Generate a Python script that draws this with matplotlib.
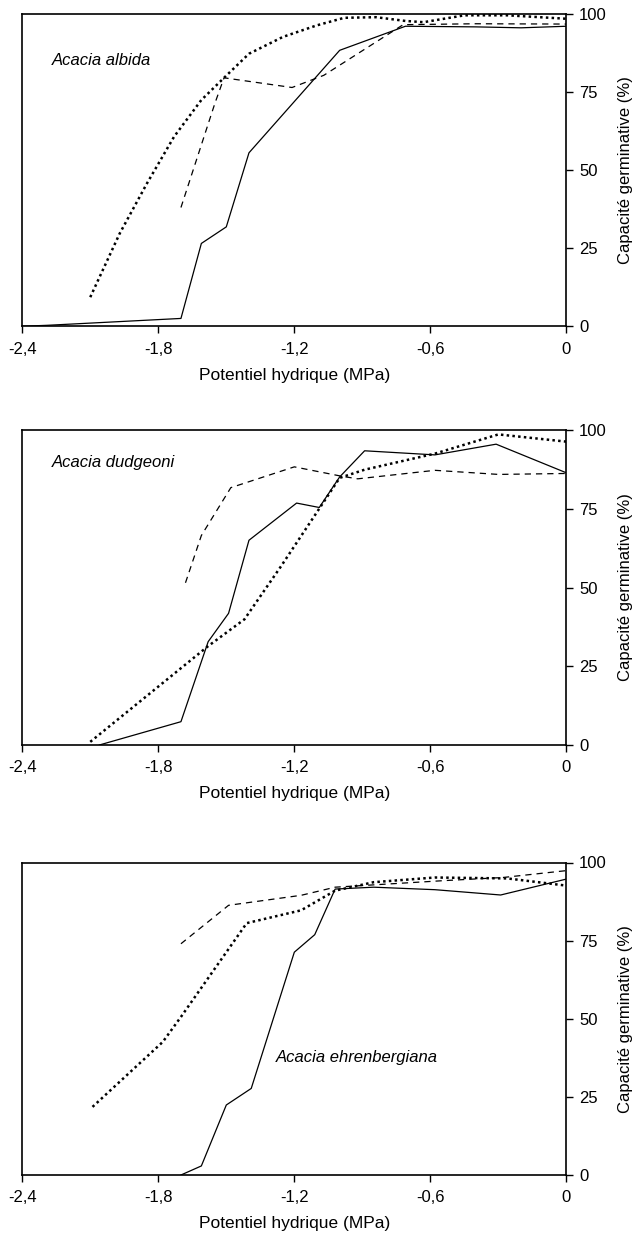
import matplotlib
matplotlib.use("Agg")
import matplotlib.pyplot as plt

plt.rcParams["font.family"] = ["Liberation Sans", "DejaVu Sans"]

# x = potentiel hydrique (MPa), y = capacite germinative (%)
# Acacia albida
alb_solid_x = [-2.40, -2.29, -1.70, -1.61, -1.50, -1.40, -1.00, -0.71, -0.40, -0.20, 0.0]
alb_solid_y = [0.0, 0.3, 2.5, 26.5, 31.8, 55.5, 88.3, 96.0, 95.8, 95.5, 96.0]
alb_dash_x = [-1.70, -1.55, -1.51, -1.21, -1.07, -0.72, -0.40, 0.0]
alb_dash_y = [38.0, 71.4, 79.5, 76.4, 80.3, 96.5, 96.8, 96.7]
alb_dot_x = [-2.10, -1.97, -1.85, -1.73, -1.61, -1.51, -1.40, -1.25, -1.10, -0.98, -0.84, -0.71, -0.63, -0.45, -0.26, 0.0]
alb_dot_y = [9.3, 29.7, 45.7, 60.7, 72.4, 79.5, 87.2, 92.6, 96.3, 98.7, 98.9, 97.7, 97.3, 99.5, 99.5, 98.4]

# Acacia dudgeoni
dud_solid_x = [-2.06, -1.70, -1.58, -1.49, -1.40, -1.19, -1.09, -1.00, -0.89, -0.58, -0.31, 0.0]
dud_solid_y = [0.0, 7.4, 32.8, 41.8, 65.0, 76.8, 75.4, 85.1, 93.4, 92.1, 95.5, 86.4]
dud_dash_x = [-1.68, -1.61, -1.48, -1.20, -0.99, -0.92, -0.58, -0.30, 0.0]
dud_dash_y = [51.5, 66.5, 81.7, 88.3, 85.3, 84.5, 87.2, 85.9, 86.2]
dud_dot_x = [-2.10, -1.58, -1.42, -1.26, -1.00, -0.89, -0.58, -0.30, 0.0]
dud_dot_y = [1.0, 31.4, 39.9, 56.6, 84.8, 87.4, 92.5, 98.6, 96.3]

# Acacia ehrenbergiana
ehr_solid_x = [-1.70, -1.61, -1.50, -1.39, -1.20, -1.11, -1.02, -0.85, -0.58, -0.29, 0.0]
ehr_solid_y = [0.0, 2.9, 22.4, 27.7, 71.3, 76.9, 91.5, 92.1, 91.3, 89.6, 94.7]
ehr_dash_x = [-1.70, -1.49, -1.17, -1.02, -0.54, -0.28, 0.0]
ehr_dash_y = [74.0, 86.3, 89.5, 92.1, 94.2, 95.2, 97.4]
ehr_dot_x = [-2.09, -1.78, -1.70, -1.41, -1.17, -1.02, -0.85, -0.58, -0.26, 0.0]
ehr_dot_y = [21.8, 42.6, 50.6, 80.6, 84.7, 91.0, 93.7, 95.2, 94.9, 92.6]

species = ["Acacia albida", "Acacia dudgeoni", "Acacia ehrenbergiana"]
label_pos = [(-2.27, 85.0), (-2.27, 89.8), (-1.28, 37.5)]
series = [
    (alb_solid_x, alb_solid_y, alb_dash_x, alb_dash_y, alb_dot_x, alb_dot_y),
    (dud_solid_x, dud_solid_y, dud_dash_x, dud_dash_y, dud_dot_x, dud_dot_y),
    (ehr_solid_x, ehr_solid_y, ehr_dash_x, ehr_dash_y, ehr_dot_x, ehr_dot_y),
]
xticks = [-2.4, -1.8, -1.2, -0.6, 0.0]
xticklabels = ["-2,4", "-1,8", "-1,2", "-0,6", "0"]
yticks = [0, 25, 50, 75, 100]

fig = plt.figure(figsize=(6.35, 12.5), dpi=100)
# axes boxes in figure fractions (bottom, height) for each panel
boxes = [(0.739, 0.250), (0.404, 0.252), (0.060, 0.250)]

for (bottom, height), name, lp, s in zip(boxes, species, label_pos, series):
    ax = fig.add_axes([0.035, bottom, 0.857, height])
    sx, sy, dx, dy, px, py = s
    ax.plot(sx, sy, color="black", lw=0.9, ls="-")
    ax.plot(dx, dy, color="black", lw=0.9, ls=(0, (5, 4)))
    ax.plot(px, py, color="black", lw=1.8, ls=(0, (1, 1.3)))
    ax.set_xlim(-2.4, 0.0)
    ax.set_ylim(0, 100)
    ax.set_xticks(xticks)
    ax.set_xticklabels(xticklabels)
    ax.set_yticks(yticks)
    ax.yaxis.tick_right()
    ax.yaxis.set_label_position("right")
    ax.tick_params(axis="both", direction="out", length=5, width=1.0, labelsize=12)
    ax.tick_params(axis="x", pad=6)
    ax.tick_params(axis="y", pad=4)
    for sp in ax.spines.values():
        sp.set_linewidth(1.2)
    ax.set_ylabel("Capacité germinative (%)", fontsize=12, labelpad=8)
    ax.set_xlabel("Potentiel hydrique (MPa)", fontsize=12.5, labelpad=8)
    ax.text(lp[0], lp[1], name, fontsize=12, style="italic", va="center", ha="left")

fig.savefig("out.png", dpi=100)
